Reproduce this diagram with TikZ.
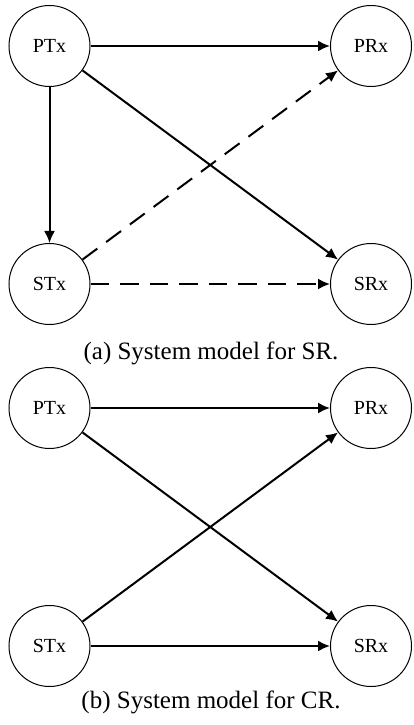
\documentclass[tikz,border=0pt]{standalone}
\usepackage{fontspec}
\setmainfont{Liberation Serif}
\usetikzlibrary{arrows.meta}
\begin{document}
\begin{tikzpicture}[x=0.4pt,y=-0.4pt,
  station/.style={circle,draw,line width=0.4pt,minimum size=32.4pt,inner sep=0pt,font=\fontsize{8}{9.6}\selectfont},
  link/.style={line width=0.8pt,-{Latex[length=4.8pt,width=4.4pt]}},
  dlink/.style={link,dash pattern=on 7.4pt off 4.4pt},
  captext/.style={font=\fontsize{10}{12}\selectfont}]
\useasboundingbox (0,0) rectangle (413,725);
% panel (a)
\node[station] (pt1) at (49.5,46) {PTx};
\node[station] (pr1) at (371,46) {PRx};
\node[station] (st1) at (49.5,284) {STx};
\node[station] (sr1) at (371,284) {SRx};
\draw[link] (pt1) -- (pr1);
\draw[link] (pt1) -- (sr1);
\draw[link] (pt1) -- (st1);
\draw[dlink] (st1) -- (pr1);
\draw[dlink] (st1) -- (sr1);
\node[captext] (capa) at (211,353) {(a) System model for SR.};
% panel (b)
\node[station] (pt2) at (49.5,408) {PTx};
\node[station] (pr2) at (371,408) {PRx};
\node[station] (st2) at (49.5,646) {STx};
\node[station] (sr2) at (371,646) {SRx};
\draw[link] (pt2) -- (pr2);
\draw[link] (pt2) -- (sr2);
\draw[link] (st2) -- (pr2);
\draw[link] (st2) -- (sr2);
\node[captext] (capb) at (211,702) {(b) System model for CR.};
\end{tikzpicture}
\end{document}
